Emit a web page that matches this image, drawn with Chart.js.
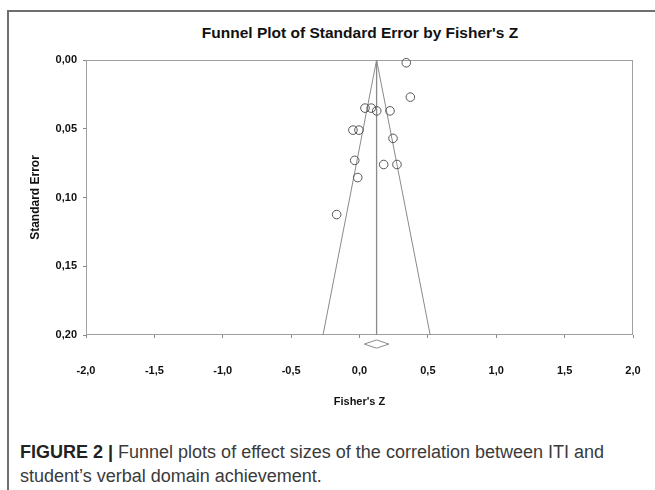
<!DOCTYPE html>
<html lang="en">
<head>
    <meta charset="UTF-8">
    <title>Funnel Plot of Standard Error by Fisher's Z</title>
    <script src="https://cdn.jsdelivr.net/npm/chart.js"></script>
    <style>
        html, body { margin: 0; padding: 0; background: #fff; }
        body { width: 655px; height: 490px; position: relative; overflow: hidden; font-family: 'Liberation Sans', Arial, sans-serif; }
        .frame {
            position: absolute; left: 7px; top: 10px; right: 0; bottom: 0;
            border-top: 2px solid #6e6e6e;
            border-left: 2px solid #6e6e6e;
        }
        .chart-box { position: absolute; left: 0; top: 0; width: 655px; height: 415px; }
        /* title centred over the plot area, like the original */
        .chart-title {
            position: absolute; left: 160px; width: 400px; top: 24px;
            text-align: center; font-weight: bold; font-size: 15.5px; color: #111;
        }
        .caption {
            position: absolute; left: 20px; top: 440px; width: 635px;
            font-size: 18px; line-height: 24px; color: #3a3a3a; white-space: nowrap;
        }
        .caption b { color: #222; }
    </style>
</head>
<body>
    <div class="frame"></div>
    <div class="chart-title">Funnel Plot of Standard Error by Fisher's Z</div>
    <div class="chart-box"><canvas id="funnel"></canvas></div>
    <div class="caption"><b>FIGURE 2 |</b> Funnel plots of effect sizes of the correlation between ITI and<br>student’s verbal domain achievement.</div>

    <script>
        // study points (Fisher's Z, standard error)
        const fisherZ = [0.342, 0.372, 0.040, 0.086, 0.126, 0.223, -0.048, -0.004, 0.245, -0.035, 0.177, 0.274, -0.013, -0.167];
        const stdErr  = [0.002, 0.027, 0.035, 0.035, 0.037, 0.037, 0.051, 0.051, 0.057, 0.073, 0.076, 0.076, 0.0855, 0.1124];

        // pooled estimate and funnel limits
        const meanZ = 0.125;
        const funnelZ = [-0.267, 0.125, 0.517];
        const funnelSE = [0.2, 0, 0.2];
        const diamondZ = [0.035, 0.125, 0.215, 0.125, 0.035];
        const diamondSE = [0.2066, 0.2036, 0.2066, 0.2096, 0.2066];

        const xTicks = [-2, -1.5, -1, -0.5, 0, 0.5, 1, 1.5, 2];
        const yTicks = [0, 0.05, 0.1, 0.15, 0.2];

        const font = "'Liberation Sans', Arial, sans-serif";

        const boxPlugin = {
            id: 'plotBox',
            beforeDatasetsDraw(chart) {
                const a = chart.chartArea;
                const ctx = chart.ctx;
                ctx.save();
                ctx.strokeStyle = '#a0a0a0';
                ctx.lineWidth = 1;
                ctx.strokeRect(a.left + 0.5, a.top + 0.5, a.right - a.left - 1, a.bottom - a.top - 1);
                ctx.restore();
            }
        };

        const ctx = document.getElementById('funnel').getContext('2d');
        new Chart(ctx, {
            type: 'scatter',
            data: {
                datasets: [
                    {
                        label: 'studies',
                        data: fisherZ.map((z, i) => ({ x: z, y: stdErr[i] })),
                        pointRadius: 4.3,
                        pointBorderWidth: 1,
                        pointBorderColor: '#555',
                        pointBackgroundColor: 'rgba(0,0,0,0)',
                        clip: false,
                        order: 0
                    },
                    {
                        label: 'mean',
                        data: [{ x: meanZ, y: 0 }, { x: meanZ, y: 0.2 }],
                        showLine: true,
                        borderColor: '#8a8a8a',
                        borderWidth: 1.3,
                        pointRadius: 0,
                        order: 1
                    },
                    {
                        label: 'funnel',
                        data: funnelZ.map((z, i) => ({ x: z, y: funnelSE[i] })),
                        showLine: true,
                        borderColor: '#8a8a8a',
                        borderWidth: 1,
                        pointRadius: 0,
                        order: 1
                    },
                    {
                        label: 'diamond',
                        data: diamondZ.map((z, i) => ({ x: z, y: diamondSE[i] })),
                        showLine: true,
                        borderColor: '#8a8a8a',
                        borderWidth: 1,
                        pointRadius: 0,
                        clip: false,
                        order: 1
                    }
                ]
            },
            options: {
                responsive: true,
                maintainAspectRatio: false,
                animation: false,
                events: [],
                layout: { padding: { left: 0, right: 22, top: 60, bottom: 0 } },
                plugins: {
                    legend: { display: false },
                    tooltip: { enabled: false },
                    title: { display: false }
                },
                scales: {
                    x: {
                        type: 'linear',
                        min: -2,
                        max: 2,
                        afterBuildTicks: s => { s.ticks = xTicks.map(v => ({ value: v })); },
                        afterFit: s => {
                            s.height = 80;
                            // large tick padding would otherwise push the right edge in
                            s.paddingLeft = 0;
                            s.paddingRight = 0;
                        },
                        grid: { display: true, drawOnChartArea: false, drawTicks: true, tickLength: 3, color: '#888' },
                        border: { display: false },
                        ticks: {
                            color: '#111',
                            padding: 26,
                            font: { family: font, size: 11, weight: 'bold' },
                            callback: v => v.toFixed(1).replace('.', ',')
                        },
                        title: {
                            display: true,
                            text: "Fisher's Z",
                            color: '#111',
                            font: { family: font, size: 11, weight: 'bold' },
                            padding: { top: 0, bottom: 6 }
                        }
                    },
                    y: {
                        type: 'linear',
                        reverse: true,
                        min: 0,
                        max: 0.2,
                        afterBuildTicks: s => { s.ticks = yTicks.map(v => ({ value: v })); },
                        afterFit: s => { s.width = 86; },
                        grid: { display: true, drawOnChartArea: false, drawTicks: true, tickLength: 3, color: '#888' },
                        border: { display: false },
                        ticks: {
                            color: '#111',
                            padding: 6,
                            font: { family: font, size: 11, weight: 'bold' },
                            callback: v => v.toFixed(2).replace('.', ',')
                        },
                        title: {
                            display: true,
                            text: 'Standard Error',
                            color: '#111',
                            font: { family: font, size: 12, weight: 'bold' },
                            padding: { top: 28, bottom: 0 }
                        }
                    }
                }
            },
            plugins: [boxPlugin]
        });
    </script>
</body>
</html>
